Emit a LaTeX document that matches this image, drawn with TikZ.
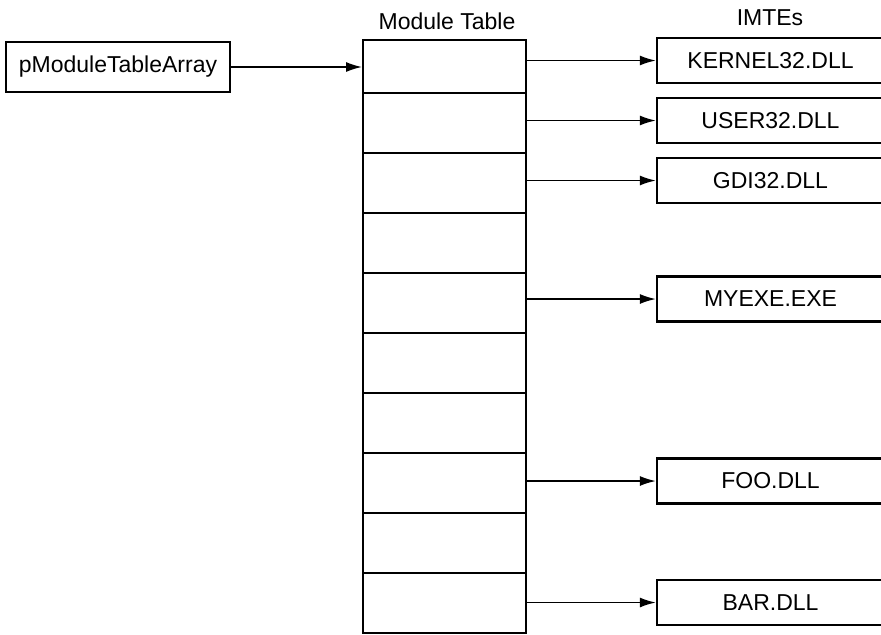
\documentclass[tikz,border=0pt]{standalone}
\usepackage{fontspec}
\setmainfont{Liberation Sans}
\usetikzlibrary{arrows.meta}
\begin{document}
\begin{tikzpicture}[x=0.5pt,y=-0.5pt,
  every node/.style={font=\fontsize{11.5}{13}\selectfont},
  box/.style={draw,line width=1.2pt,inner sep=0pt},
  row/.style={draw,line width=1pt,inner sep=0pt,minimum width=81.5pt,minimum height=30pt},
  imte/.style={box,minimum width=113.5pt,minimum height=22.5pt},
  arr/.style={line width=0.75pt,-{Latex[length=8pt,width=5pt]}},
  lbl/.style={inner sep=0pt}]
\clip (0,0) rectangle (881,634);
\fill[white] (0,0) rectangle (881,634);
% pointer
\node[box,minimum width=112pt,minimum height=25pt] (pm) at (118,67) {pModuleTableArray};
% module table rows
\node[row,minimum height=26.5pt] (r1) at (444.5,66.5) {};
\foreach \i in {2,...,10}{
  \node[row] (r\i) at (444.5,{123+60*(\i-2)}) {};
}
\node[lbl] (mt) at (447,21) {Module Table};
\node[lbl] (im) at (770,18) {IMTEs};
% IMTE boxes
\node[imte] (k) at (770.5,60.5) {KERNEL32.DLL};
\node[imte] (u) at (770.5,120.5) {USER32.DLL};
\node[imte] (g) at (770.5,180.5) {GDI32.DLL};
\node[imte] (m) at (770.5,299) {MYEXE.EXE};
\node[imte] (f) at (770.5,481) {FOO.DLL};
\node[imte] (b) at (770.5,602.5) {BAR.DLL};
% arrows
\draw[arr] (pm.east) -- (pm.east -| r1.west);
\draw[arr] (r1.east |- k.west) -- (k.west);
\draw[arr] (r2.east |- u.west) -- (u.west);
\draw[arr] (r3.east |- g.west) -- (g.west);
\draw[arr] (r5.east |- m.west) -- (m.west);
\draw[arr] (r8.east |- f.west) -- (f.west);
\draw[arr] (r10.east |- b.west) -- (b.west);
\end{tikzpicture}
\end{document}
